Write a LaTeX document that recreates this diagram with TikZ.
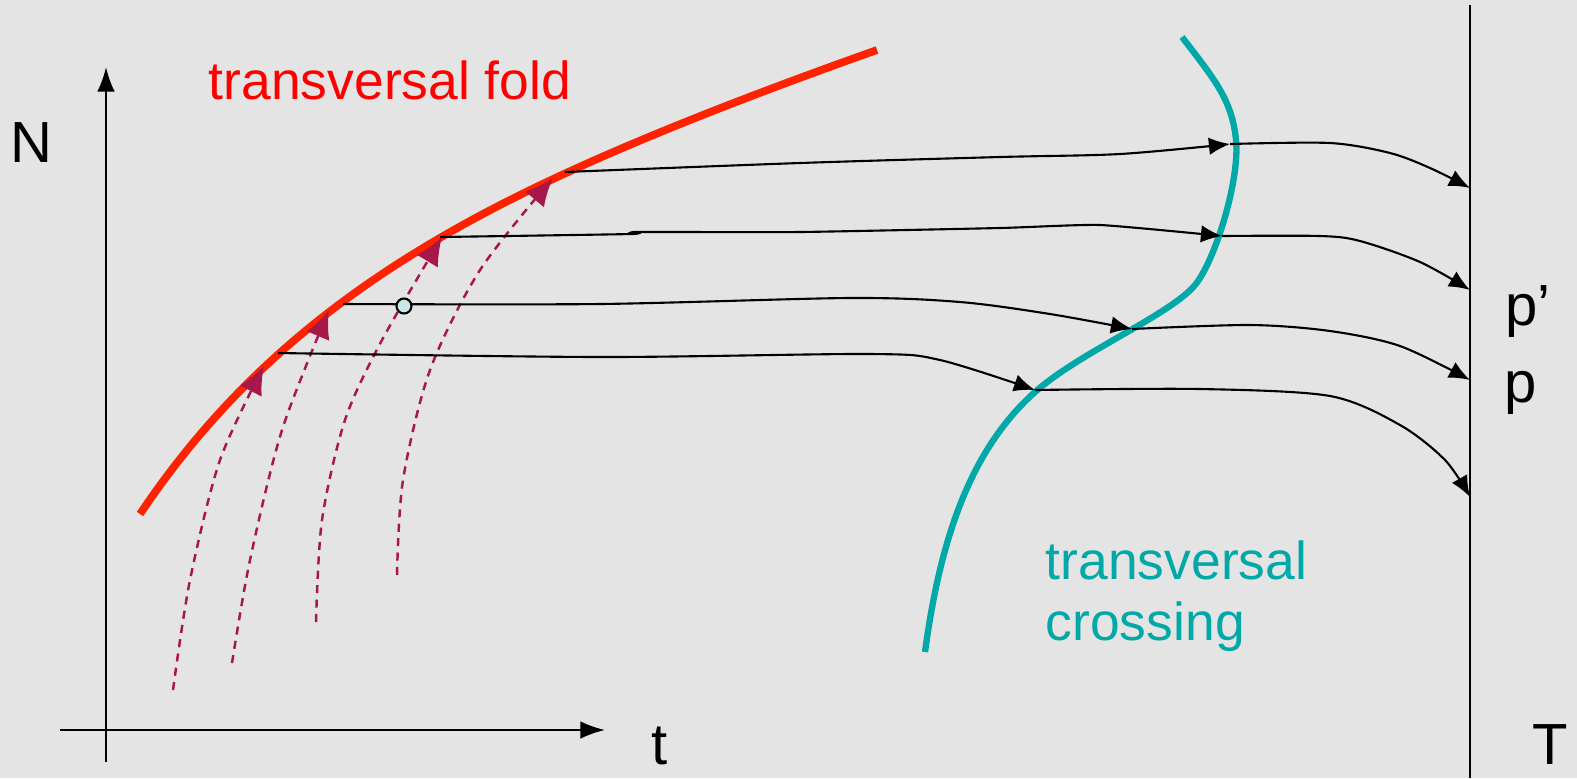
\documentclass[tikz,border=0pt]{standalone}
\usepackage{fontspec}
\setmainfont{Liberation Sans}
\usetikzlibrary{arrows.meta}
\definecolor{bgray}{HTML}{E4E4E4}
\definecolor{foldred}{HTML}{FF2200}
\definecolor{crossteal}{HTML}{00A8A8}
\definecolor{maroon}{HTML}{A8174A}
\definecolor{dotfill}{HTML}{C8E8E8}
\tikzset{
  axis/.style={black, line width=0.6pt},
  flow/.style={black, line width=0.6pt, -{Latex[length=6pt,width=5pt]}},
  fold/.style={foldred, line width=2.2pt},
  crossing/.style={crossteal, line width=1.8pt},
  char/.style={maroon, line width=0.7pt, dash pattern=on 2.3pt off 1.8pt, -{Latex[length=8pt,width=7pt]}},
  lbl/.style={font=\fontsize{16.5}{19}\selectfont}
}
\begin{document}
\begin{tikzpicture}[x=0.01cm, y=-0.01cm]
\fill[bgray] (0,0) rectangle (1577,778);
\useasboundingbox (0,0) rectangle (1577,778);
% axes
\draw[axis, -{Latex[length=7pt,width=5pt]}] (106,762) -- (106,67);
\draw[axis, -{Latex[length=7pt,width=5pt]}] (60,730) -- (605,730);
\draw[axis] (1470,5) -- (1470,778);
\node[lbl] (N) at (31,143) {N};
\node[lbl] (t) at (660,746) {t};
\node[lbl] (T) at (1550,745) {T};
\node[lbl] (pp) at (1528,312) {p’};
\node[lbl] (p) at (1521,393) {p};
% fold and crossing
\draw[fold] (140,514) .. controls (240,365) and (370,265) .. (551,180)
  .. controls (651,133) and (770,88) .. (877,50);
\draw[crossing] (925,652) .. controls (940,540) and (970,450) .. (1035,392)
  .. controls (1080,352) and (1170,315) .. (1195,285)
  .. controls (1215,261) and (1240,180) .. (1236,140)
  .. controls (1232,100) and (1215,80) .. (1182,37);
\node[text=red, font=\fontsize{15.2}{18}\selectfont] (foldlbl) at (390,80) {transversal fold};
\node[text=crossteal, font=\fontsize{15.2}{17.3}\selectfont, align=left, anchor=north west, inner sep=0pt] (crosslbl) at (1045,540) {transversal\\crossing};
% characteristics
\draw[char] plot[smooth] coordinates {(173,690) (190,580) (220,460) (264,366)};
\draw[char] plot[smooth] coordinates {(232,663) (250,560) (282,430) (329,310)};
\draw[char] plot[smooth] coordinates {(316,622) (322,520) (345,420) (382,340) (442,237)};
\draw[char] plot[smooth] coordinates {(397,575) (403,480) (430,370) (480,270) (553,178)};
% flows
\coordinate (a1) at (565,172); \coordinate (b1) at (1230,144);
\coordinate (a2) at (440,237); \coordinate (b2) at (1222,236);
\coordinate (a3) at (343,304); \coordinate (b3) at (1132,329);
\coordinate (a4) at (278,353); \coordinate (b4) at (1035,390);
\draw[flow] plot[smooth] coordinates {(a1) (800,163) (1000,157) (1120,154) (b1)};
\draw[flow] plot[smooth] coordinates {(b1) (1330,143) (1390,153) (1430,168) (1470,188)};
\draw[flow] plot[smooth, tension=0.3] coordinates {(a2) (632,234) (636,232) (800,232) (1000,228) (1100,225) (b2)};
\draw[flow] plot[smooth] coordinates {(b2) (1320,236) (1360,241) (1420,262) (1470,290)};
\draw[flow] plot[smooth] coordinates {(a3) (600,304) (850,298) (960,302) (1050,314) (b3)};
\draw[flow] plot[smooth] coordinates {(b3) (1250,325) (1330,331) (1400,346) (1470,380)};
\draw[flow] plot[smooth] coordinates {(a4) (600,357) (870,354) (940,360) (b4)};
\draw[flow] plot[smooth] coordinates {(b4) (1200,389) (1330,396) (1400,425) (1445,460) (1470,497)};
\node[circle, draw=black, fill=dotfill, line width=0.6pt, inner sep=0pt, minimum size=0.15cm] (dot) at (404,306) {};
\end{tikzpicture}
\end{document}
